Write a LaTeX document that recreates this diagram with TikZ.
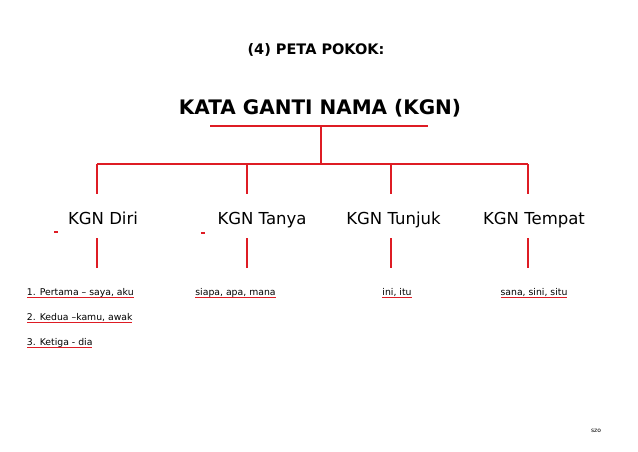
\documentclass[tikz,border=0pt]{standalone}
\usepackage{fontspec}
\setmainfont{DejaVu Sans}
\definecolor{kred}{RGB}{222,28,36}
\tikzset{
  redline/.style={draw=kred, line width=2pt},
  uline/.style={draw=kred, line width=1.3pt},
  txt/.style={anchor=base, inner sep=0pt, outer sep=0pt},
  head/.style={txt, font=\fontsize{14.5}{16}\selectfont\bfseries},
  maintitle/.style={txt, font=\fontsize{20}{22}\selectfont\bfseries},
  cat/.style={txt, font=\fontsize{16.5}{18}\selectfont},
  item/.style={txt, font=\fontsize{9.3}{11}\selectfont},
  itemw/.style={item, anchor=base west},
}
\begin{document}
\begin{tikzpicture}[x=1pt,y=-1pt]
\useasboundingbox[fill=white] (0,0) rectangle (638,452);

\node[head] (h) at (316,55) {(4) PETA POKOK:};
\node[maintitle] (t) at (320,115) {KATA GANTI NAMA (KGN)};

% title underline and trunk
\coordinate (ul) at (210,126);
\coordinate (ur) at (428,126);
\coordinate (um) at (321,126);
\coordinate (bm) at (321,164);
\draw[redline] (ul) -- (ur);
\draw[redline] (um) -- (bm);

% main bar
\coordinate (b1) at (97,164);
\coordinate (b2) at (247,164);
\coordinate (b3) at (391,164);
\coordinate (b4) at (528,164);
\draw[redline] (b1) -- (b4);

% categories
\node[cat] (c1) at (103,224) {KGN Diri};
\node[cat] (c2) at (262,224) {KGN Tanya};
\node[cat] (c3) at (393.5,224) {KGN Tunjuk};
\node[cat] (c4) at (534,224) {KGN Tempat};

\foreach \i/\x in {1/97,2/247,3/391,4/528}{
  \coordinate (u\i) at (\x,194);
  \coordinate (l\i) at (\x,238);
  \coordinate (m\i) at (\x,268);
  \draw[redline] (b\i) -- (u\i);
  \draw[redline] (l\i) -- (m\i);
}

% small dashes
\coordinate (d1a) at (54,232);
\coordinate (d1b) at (58,232);
\coordinate (d2a) at (201,233);
\coordinate (d2b) at (205,233);
\draw[redline] (d1a) -- (d1b);
\draw[redline] (d2a) -- (d2b);

% items
\node[itemw] (i1) at (27,295) {1. Pertama – saya, aku};
\node[itemw] (i2) at (27,320) {2. Kedua –kamu, awak};
\node[itemw] (i3) at (27,345) {3. Ketiga - dia};
\node[item] (i4) at (235.5,295) {siapa, apa, mana};
\node[item] (i5) at (397,295) {ini, itu};
\node[item] (i6) at (534,295) {sana, sini, situ};
\foreach \n in {i1,i2,i3,i4,i5,i6}{
  \draw[uline] ([yshift=-2.5pt]\n.base west) -- ([yshift=-2.5pt]\n.base east);
}

\node[txt, font=\fontsize{6}{7}\selectfont] (s) at (596,432) {szo};
\end{tikzpicture}
\end{document}
